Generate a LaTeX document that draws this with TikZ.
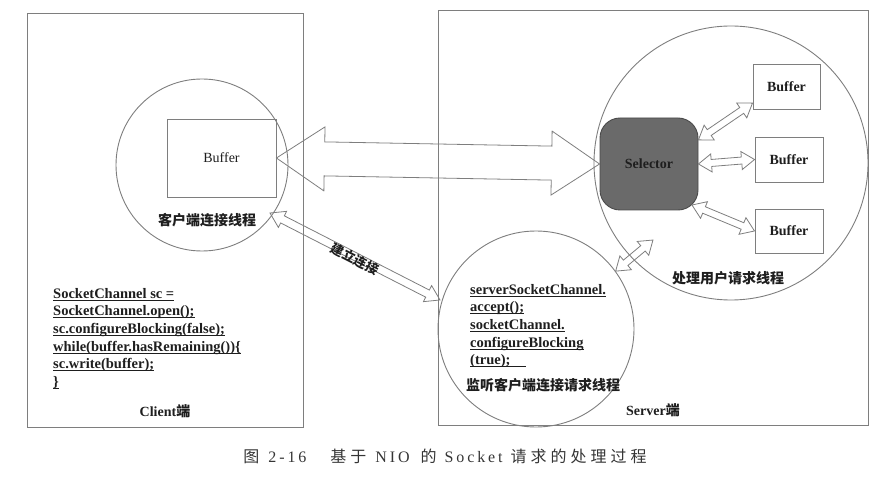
\documentclass[tikz,border=0pt]{standalone}
\usepackage{fontspec}
\setmainfont{Liberation Serif}
\newfontfamily\cjk{Noto Sans CJK SC}
\newfontfamily\capcjk[LetterSpace=25]{Noto Sans CJK SC}
\newfontfamily\caplat[LetterSpace=18]{Liberation Serif}
\usetikzlibrary{calc}
\definecolor{ln}{HTML}{7E7E7E}
\definecolor{tx}{HTML}{1E1E1E}
\definecolor{selfill}{HTML}{6A6A6A}
\definecolor{seldraw}{HTML}{4A4A4A}
\newcommand\cu[1]{\setbox0\hbox{#1}\rlap{\color{tx}\rule[-2.6pt]{\wd0}{1.1pt}}\box0}
\newcommand\hollowarrow[6][]{% [opts] from, to, shaft half, head half, head len
  \path let \p1=(#2), \p2=(#3) in \pgfextra{%
    \pgfmathsetmacro\haA{atan2((\y2)-(\y1),(\x2)-(\x1))}%
    \pgfmathsetmacro\haL{veclen((\x2)-(\x1),(\y2)-(\y1))}%
    \pgfmathsetmacro\haB{\haL-#6}%
    \xdef\hax{\x1}\xdef\hay{\y1}%
    \global\let\haang\haA\global\let\halen\haL\global\let\hab\haB};
  \draw[arrowline,#1,shift={(\hax,\hay)},rotate=\haang]
    (0pt,0pt) -- (#6pt,#5pt) -- (#6pt,#4pt) -- (\hab pt,#4pt) -- (\hab pt,#5pt)
    -- (\halen pt,0pt) -- (\hab pt,-#5pt) -- (\hab pt,-#4pt) -- (#6pt,-#4pt)
    -- (#6pt,-#5pt) -- cycle;}
\tikzset{
  frame/.style={draw=ln, line width=0.9pt, inner sep=0pt, anchor=north west},
  ring/.style={draw=ln, line width=0.9pt, circle, inner sep=0pt},
  bufbox/.style={draw=ln, line width=0.9pt, inner sep=0pt, text=tx,
    font=\bfseries\fontsize{14}{16}\selectfont},
  arrowline/.style={draw=ln, line width=0.8pt, line join=miter},
  lbl/.style={text=tx, inner sep=0pt, font=\bfseries\fontsize{14}{16}\selectfont},
  cjklbl/.style={text=tx, inner sep=0pt, font=\cjk\bfseries\fontsize{14}{16}\selectfont},
  codetxt/.style={text=tx, inner sep=0pt, align=left, anchor=north west,
    font=\bfseries\fontsize{14.5}{17.6}\selectfont},
}
\begin{document}
\begin{tikzpicture}[x=1pt,y=-1pt]
\useasboundingbox (0,0) rectangle (891,478);
% frames
\node[frame, minimum width=276pt, minimum height=414pt] (client) at (27,13) {};
\node[frame, minimum width=430pt, minimum height=415pt] (server) at (438,10) {};
% circles
\node[ring, minimum size=172pt] (cc) at (202,165) {};
\node[ring, minimum size=274pt] (pc) at (731,163) {};
\node[ring, minimum size=196pt] (lc) at (536,329) {};
% client buffer
\node[bufbox, minimum width=109pt, minimum height=78pt,
      font=\fontsize{14}{16}\selectfont] (cbuf) at (221.5,158) {Buffer};
\node[cjklbl] (cclbl) at (207,220) {客户端连接线程};
% selector and buffers
\node[draw=seldraw, fill=selfill, line width=0.9pt, rounded corners=20pt,
      minimum width=98pt, minimum height=92pt, lbl] (sel) at (649,164) {Selector};
\node[bufbox, minimum width=67pt, minimum height=45pt] (b1) at (786.5,86.5) {Buffer};
\node[bufbox, minimum width=68pt, minimum height=45pt] (b2) at (789,159.5) {Buffer};
\node[bufbox, minimum width=68pt, minimum height=44pt] (b3) at (789,231) {Buffer};
\node[cjklbl] (pclbl) at (728,278) {处理用户请求线程};
% client code
\node[codetxt] (ccode) at (53,288) {%
\cu{SocketChannel sc =}\\
\cu{SocketChannel.open();}\\
\cu{sc.configureBlocking(false);}\\
\cu{while(buffer.hasRemaining())\{}\\
\cu{sc.write(buffer);}\\
\cu{\}}};
\node[lbl] (clientlbl) at (165,411) {Client{\cjk 端}};
% server code
\node[codetxt] (scode) at (470,284) {%
\cu{serverSocketChannel.}\\
\cu{accept();}\\
\cu{socketChannel.}\\
\cu{configureBlocking}\\
\cu{(true);\hspace{16pt}}};
\node[cjklbl] (lclbl) at (543,385) {监听客户端连接请求线程};
\node[lbl] (serverlbl) at (653,410) {Server{\cjk 端}};
% connector end points
\coordinate (s3) at (692,205);
\coordinate (lcout) at (653,240);
\coordinate (ccout) at (270,213);
\coordinate (lcin) at (440,300);
% arrows
\hollowarrow{cbuf.east}{sel.west}{17}{32}{48}
\hollowarrow{sel.26}{b1.206}{3.5}{9}{13}
\hollowarrow{sel.east}{b2.west}{3.5}{9}{13}
\hollowarrow{s3}{b3.west}{3.5}{9}{13}
\hollowarrow{lc.36}{lcout}{3.5}{9}{13}
\hollowarrow{ccout}{lcin}{4}{9}{14}
\node[cjklbl, rotate=-27, font=\cjk\bfseries\fontsize{13}{15}\selectfont] (connlbl) at (355,259) {建立连接};
% caption
\node[inner sep=0pt, text=tx!90, font=\fontsize{16}{18}\selectfont] (caption) at (445,456)
  {{\capcjk 图}\hspace{9pt}{\caplat 2-16}\hspace{24pt}{\capcjk 基于}\hspace{9pt}{\caplat NIO}\hspace{11pt}{\capcjk 的}\hspace{8pt}{\caplat Socket}\hspace{8pt}{\capcjk 请求的处理过程}};
\end{tikzpicture}
\end{document}
